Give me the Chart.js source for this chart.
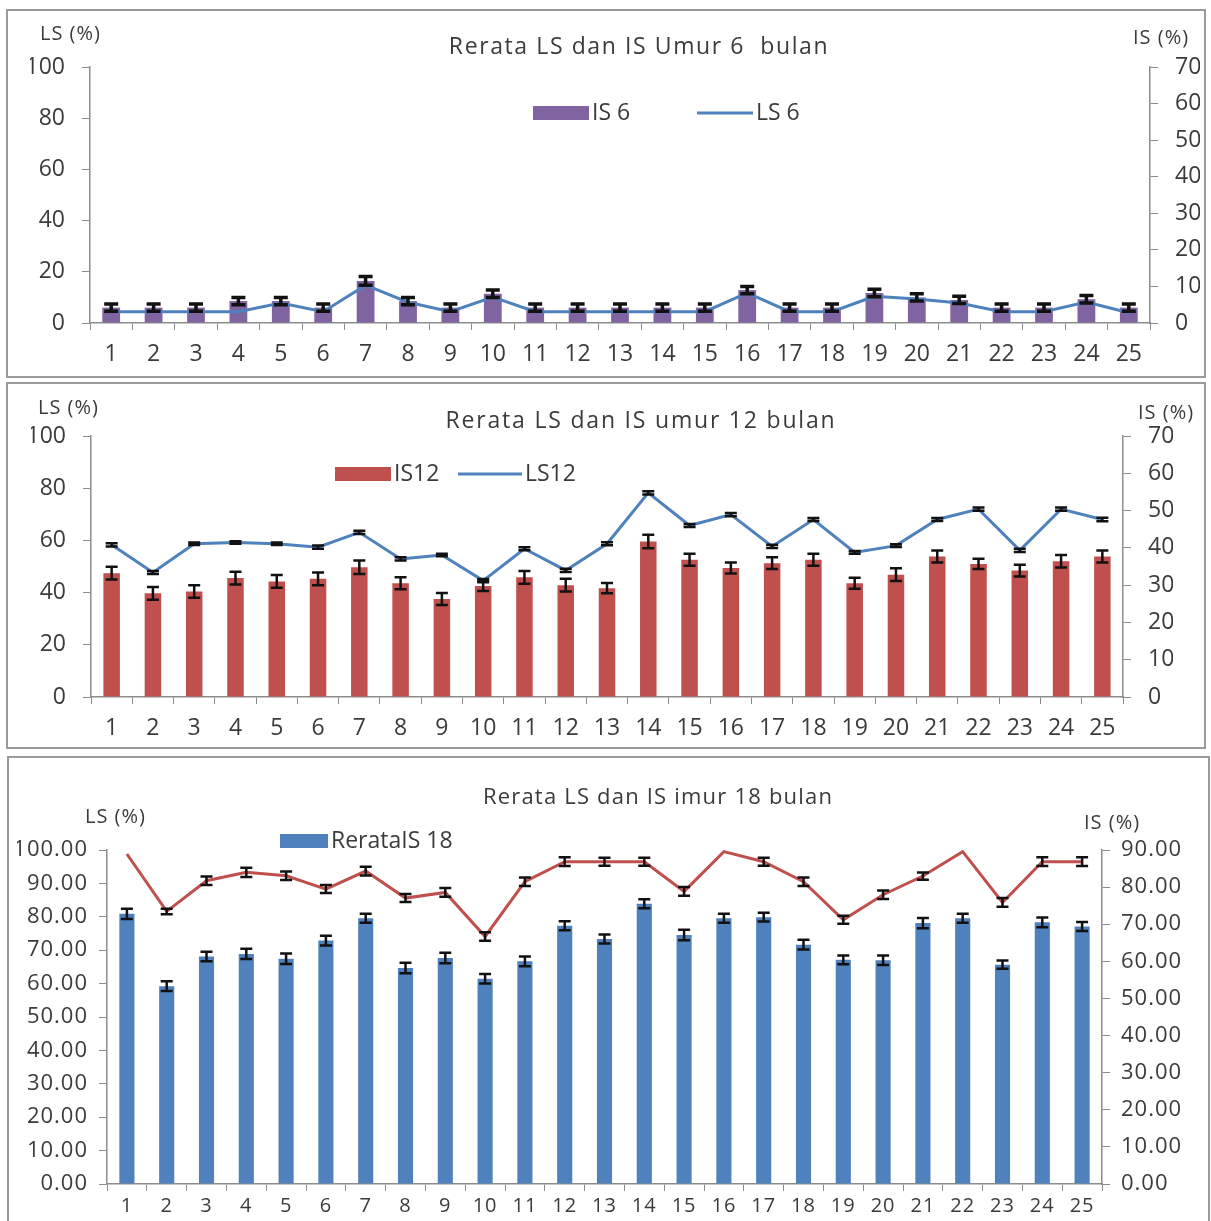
<!DOCTYPE html>
<html>
<head>
<meta charset="utf-8">
<title>Rerata LS dan IS</title>
<script src="https://cdn.jsdelivr.net/npm/chart.js@4.4.1/dist/chart.umd.min.js"></script>
<style>
  body { margin: 0; background: #fff; width: 1211px; height: 1221px; overflow: hidden; position: relative; }
  .frame { position: absolute; border: 2px solid #9a9a9a; box-sizing: border-box; }
  canvas { position: absolute; left: 0; }
</style>
</head>
<body>
<div class="frame" style="left:6px;top:9px;width:1200px;height:369px"></div>
<div class="frame" style="left:6px;top:382px;width:1200px;height:367px"></div>
<div class="frame" style="left:7px;top:756px;width:1203px;height:470px"></div>
<canvas id="chart6" width="1211" height="380" style="top:0px"></canvas>
<canvas id="chart12" width="1211" height="372" style="top:380px"></canvas>
<canvas id="chart18" width="1211" height="469" style="top:752px"></canvas>
<script>
// data
const categories = ['1', '2', '3', '4', '5', '6', '7', '8', '9', '10', '11', '12', '13',
                    '14', '15', '16', '17', '18', '19', '20', '21', '22', '23', '24', '25'];

// umur 6 bulan
const is6    = [4.2, 4.2, 4.2, 6.0, 6.0, 4.2, 11.5, 6.0, 4.2, 8.0, 4.2, 4.2, 4.2,
                4.2, 4.2, 9.0, 4.2, 4.2, 8.2, 7.0, 6.3, 4.2, 4.2, 6.5, 4.2];
const is6Err = [1.0, 1.0, 1.0, 1.0, 1.0, 1.0, 1.2, 1.0, 1.0, 1.0, 1.0, 1.0, 1.0,
                1.0, 1.0, 1.0, 1.0, 1.0, 1.0, 1.0, 1.0, 1.0, 1.0, 1.0, 1.0];
const ls6    = [4.4, 4.4, 4.4, 4.4, 7.8, 4.4, 14.8, 8.1, 4.4, 10.1, 4.4, 4.4, 4.4,
                4.4, 4.4, 11.8, 4.4, 4.4, 10.4, 9.4, 7.8, 4.4, 4.4, 8.2, 4.0];

// umur 12 bulan
const is12    = [33.2, 27.8, 28.3, 31.9, 31.0, 31.7, 34.8, 30.5, 26.3, 29.8, 32.1, 30.0, 29.2,
                 41.7, 36.8, 34.6, 35.9, 36.8, 30.5, 32.8, 37.7, 35.7, 33.9, 36.4, 37.7];
const is12Err = [1.7, 1.7, 1.7, 1.7, 1.7, 1.7, 1.8, 1.6, 1.6, 1.4, 1.7, 1.7, 1.4,
                 1.8, 1.6, 1.5, 1.6, 1.6, 1.5, 1.7, 1.6, 1.4, 1.6, 1.7, 1.6];
const ls12    = [58.3, 47.7, 58.7, 59.2, 58.7, 57.4, 63.1, 52.9, 54.4, 44.6, 56.8, 48.5, 58.7,
                 78.2, 65.7, 69.9, 57.7, 68.0, 55.4, 58.0, 68.0, 72.0, 56.2, 72.0, 68.0];
const ls12Err = [0.6, 0.6, 0.5, 0.5, 0.5, 0.6, 0.6, 0.6, 0.5, 0.6, 0.6, 0.6, 0.6,
                 0.6, 0.6, 0.6, 0.6, 0.6, 0.5, 0.5, 0.6, 0.6, 0.6, 0.6, 0.7];

// umur 18 bulan
const is18    = [72.8, 53.3, 61.3, 62.0, 60.7, 65.6, 71.6, 58.2, 60.9, 55.3, 60.0, 69.6, 66.0,
                 75.5, 67.1, 71.6, 71.9, 64.5, 60.4, 60.3, 70.3, 71.6, 59.1, 70.5, 69.4];
const is18Err = [1.4, 1.3, 1.3, 1.4, 1.4, 1.3, 1.2, 1.4, 1.4, 1.3, 1.3, 1.2, 1.2,
                 1.2, 1.4, 1.2, 1.2, 1.3, 1.2, 1.3, 1.4, 1.2, 1.1, 1.3, 1.2];
const ls18    = [98.8, 81.6, 90.8, 93.3, 92.3, 88.3, 93.7, 85.6, 87.3, 74.1, 90.5, 96.5, 96.5,
                 96.5, 87.6, 99.5, 96.5, 90.5, 79.1, 86.6, 92.2, 99.5, 84.3, 96.5, 96.5];
const ls18Err = [0.0, 0.8, 1.3, 1.4, 1.3, 1.2, 1.3, 1.2, 1.3, 1.3, 1.3, 1.3, 1.2,
                 1.2, 1.3, 0.0, 1.2, 1.3, 1.2, 1.3, 1.1, 0.0, 1.3, 1.3, 1.3];

const FONT = "'Open Sans', sans-serif";
const TEXT = '#3b3b3b';
const AXIS = '#8c8c8c';

// the scanned picture has rather wide lettering, widen tick text a little
const tickSpacing = {
  id: 'tickSpacing',
  beforeDraw(chart, args, opts) {
    chart.ctx.letterSpacing = (opts.px || 0) + 'px';
  }
};

// error bars drawn on top of bars / line points
const errorBars = {
  id: 'errorBars',
  afterDatasetsDraw(chart) {
    const ctx = chart.ctx;
    chart.data.datasets.forEach((ds, i) => {
      if (!ds.errors) return;
      const meta = chart.getDatasetMeta(i);
      const scale = chart.scales[ds.yAxisID];
      ctx.save();
      ctx.strokeStyle = '#111';
      ctx.lineWidth = ds.errorWidth || 2.5;
      meta.data.forEach((el, j) => {
        const e = ds.errors[j];
        if (!e) return;
        const v = ds.data[j];
        const y1 = scale.getPixelForValue(v + e);
        const y2 = scale.getPixelForValue(v - e);
        const h = ds.capHalf || 6;
        ctx.beginPath();
        ctx.moveTo(el.x, y1); ctx.lineTo(el.x, y2);
        ctx.moveTo(el.x - h, y1); ctx.lineTo(el.x + h, y1);
        ctx.moveTo(el.x - h, y2); ctx.lineTo(el.x + h, y2);
        ctx.stroke();
      });
      ctx.restore();
    });
  }
};

// title, axis unit labels and the small legend
const panelText = {
  id: 'panelText',
  afterDraw(chart, args, opts) {
    const ctx = chart.ctx;
    ctx.save();
    ctx.textBaseline = 'middle';
    (opts.labels || []).forEach(t => {
      ctx.font = t.font;
      ctx.letterSpacing = (t.spacing || 0) + 'px';
      ctx.fillStyle = TEXT;
      ctx.textAlign = t.align || 'left';
      ctx.fillText(t.text, t.x, t.y);
    });
    ctx.letterSpacing = '0px';
    (opts.legend || []).forEach(it => {
      if (it.type === 'bar') {
        ctx.fillStyle = it.color;
        ctx.fillRect(it.x, it.y - 7, it.w, 14);
      } else {
        ctx.strokeStyle = it.color;
        ctx.lineWidth = 3;
        ctx.beginPath();
        ctx.moveTo(it.x, it.y);
        ctx.lineTo(it.x + it.w, it.y);
        ctx.stroke();
      }
      ctx.font = '23px ' + FONT;
      ctx.fillStyle = TEXT;
      ctx.textAlign = 'left';
      ctx.fillText(it.label, it.x + it.w + 3, it.y);
    });
    ctx.restore();
  }
};

function yAxis(pos, max, step, width, decimals, fontSize, pad) {
  return {
    type: 'linear',
    position: pos,
    min: 0,
    max: max,
    afterFit: s => { s.width = width; },
    border: { color: AXIS, width: 1.5 },
    grid: { drawOnChartArea: false, tickLength: 8, color: AXIS },
    ticks: {
      stepSize: step,
      padding: pad,
      color: TEXT,
      font: { family: FONT, size: fontSize },
      callback: v => v.toFixed(decimals)
    }
  };
}

function xAxis(height, fontSize, pad) {
  return {
    afterFit: s => { s.height = height; },
    border: { color: AXIS, width: 1.5 },
    grid: { offset: true, drawOnChartArea: false, tickLength: 7, color: AXIS },
    ticks: {
      autoSkip: false,
      maxRotation: 0,
      padding: pad,
      color: TEXT,
      font: { family: FONT, size: fontSize }
    }
  };
}

function makeChart(id, cfg) {
  return new Chart(document.getElementById(id), {
    type: 'bar',
    data: {
      labels: categories,
      datasets: [
        {
          type: 'line',
          label: cfg.lineLabel,
          data: cfg.line,
          errors: cfg.lineErr,
          capHalf: cfg.capHalf,
          errorWidth: cfg.errorWidth,
          yAxisID: 'yL',
          borderColor: cfg.lineColor,
          borderWidth: 3,
          pointRadius: 0,
          tension: 0,
          order: 0
        },
        {
          type: 'bar',
          label: cfg.barLabel,
          data: cfg.bars,
          errors: cfg.barErr,
          capHalf: cfg.capHalf,
          errorWidth: cfg.errorWidth,
          yAxisID: 'yR',
          backgroundColor: cfg.barColor,
          barPercentage: cfg.barPct,
          categoryPercentage: 1,
          order: 1
        }
      ]
    },
    options: {
      responsive: false,
      animation: false,
      layout: { padding: cfg.padding },
      plugins: {
        legend: { display: false },
        tooltip: { enabled: false },
        tickSpacing: { px: cfg.tickSpacing || 0 },
        panelText: { labels: cfg.labels, legend: cfg.legend }
      },
      scales: {
        x: xAxis(cfg.xHeight, cfg.xFont, cfg.xPad),
        yL: yAxis('left', 100, cfg.leftStep, cfg.leftW, cfg.decimals, cfg.yFont, cfg.yPad),
        yR: yAxis('right', cfg.rightMax, 10, cfg.rightW, cfg.decimals, cfg.yFont, cfg.yPad)
      }
    },
    plugins: [tickSpacing, errorBars, panelText]
  });
}

makeChart('chart6', {
  bars: is6, barErr: is6Err, barLabel: 'IS 6', barColor: '#8064A2', barPct: 0.42,
  line: ls6, lineErr: null, lineLabel: 'LS 6', lineColor: '#4F81BD',
  capHalf: 7, errorWidth: 3.5,
  padding: { left: 30, right: 11, top: 67, bottom: 17 },
  leftW: 60, rightW: 50, xHeight: 40, xFont: 23, xPad: 11, yFont: 23, yPad: 17,
  leftStep: 20, rightMax: 70, decimals: 0,
  labels: [
    { text: 'Rerata LS dan IS Umur 6  bulan', x: 639, y: 47, align: 'center', font: '23px ' + FONT, spacing: 1.6 },
    { text: 'LS (%)', x: 40, y: 34, font: '20px ' + FONT, spacing: 1 },
    { text: 'IS (%)', x: 1133, y: 38, font: '20px ' + FONT, spacing: 1 }
  ],
  legend: [
    { type: 'bar', color: '#8064A2', x: 533, y: 113, w: 56, label: 'IS 6' },
    { type: 'line', color: '#4F81BD', x: 697, y: 113, w: 56, label: 'LS 6' }
  ]
});

makeChart('chart12', {
  bars: is12, barErr: is12Err, barLabel: 'IS12', barColor: '#C0504D', barPct: 0.4,
  line: ls12, lineErr: ls12Err, lineLabel: 'LS12', lineColor: '#4F81BD',
  capHalf: 6, errorWidth: 2.5,
  padding: { left: 31, right: 38, top: 56, bottom: 15 },
  leftW: 60, rightW: 50, xHeight: 40, xFont: 23, xPad: 11, yFont: 23, yPad: 17,
  leftStep: 20, rightMax: 70, decimals: 0,
  labels: [
    { text: 'Rerata LS dan IS umur 12 bulan', x: 641, y: 41, align: 'center', font: '23px ' + FONT, spacing: 1.8 },
    { text: 'LS (%)', x: 38, y: 28, font: '20px ' + FONT, spacing: 1 },
    { text: 'IS (%)', x: 1138, y: 33, font: '20px ' + FONT, spacing: 1 }
  ],
  legend: [
    { type: 'bar', color: '#C0504D', x: 335, y: 94, w: 56, label: 'IS12' },
    { type: 'line', color: '#4F81BD', x: 458, y: 94, w: 64, label: 'LS12' }
  ]
});

makeChart('chart18', {
  bars: is18, barErr: is18Err, barLabel: 'RerataIS 18', barColor: '#4F81BD', barPct: 0.38,
  line: ls18, lineErr: ls18Err, lineLabel: 'LS 18', lineColor: '#C0504D',
  capHalf: 6, errorWidth: 2.5,
  padding: { left: 17, right: 19, top: 98, bottom: 7 },
  leftW: 90, rightW: 90, xHeight: 30, xFont: 20, xPad: 3, yFont: 22, yPad: 11,
  leftStep: 10, rightMax: 90, decimals: 2, tickSpacing: 1,
  labels: [
    { text: 'Rerata LS dan IS imur 18 bulan', x: 658, y: 46, align: 'center', font: '22px ' + FONT, spacing: 1.2 },
    { text: 'LS (%)', x: 85, y: 65, font: '20px ' + FONT, spacing: 1 },
    { text: 'IS (%)', x: 1084, y: 71, font: '20px ' + FONT, spacing: 1 }
  ],
  legend: [
    { type: 'bar', color: '#4F81BD', x: 280, y: 89, w: 48, label: 'RerataIS 18' }
  ]
});
</script>
</body>
</html>
